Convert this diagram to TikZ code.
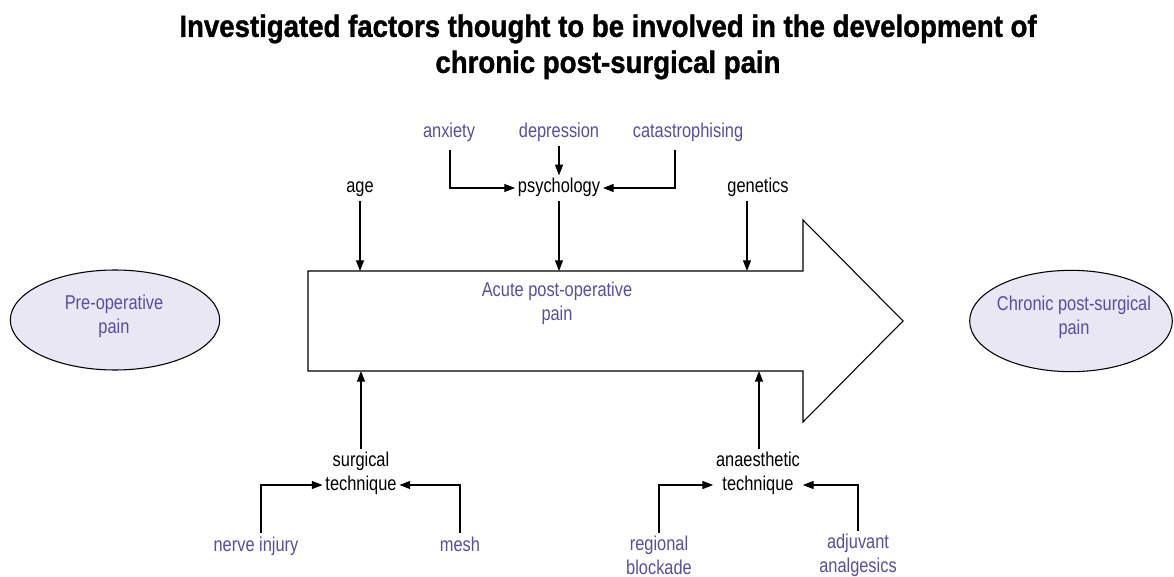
\documentclass[tikz,border=0pt]{standalone}
\usepackage{fontspec}
\setmainfont{Liberation Sans}[FakeStretch=0.82]
\newfontfamily\titlefont{Liberation Sans Bold}[FakeStretch=0.9, FakeBold=1.2]
\usepackage{tikz}
\usetikzlibrary{arrows.meta, positioning, calc, shapes.geometric}
\definecolor{lila}{HTML}{5B4C9F}
\definecolor{lilafill}{HTML}{E9E7F3}

\begin{document}
\begin{tikzpicture}[
    x=0.75pt, y=-0.75pt,
    font=\fontsize{15}{18}\selectfont,
    mainfac/.style={align=center, inner sep=2pt, text height=11pt, text depth=3.5pt},
    twoline/.style={align=center, inner sep=2pt},
    factor/.style={mainfac, text=lila},
    twofactor/.style={twoline, text=lila},
    painbox/.style={draw, ellipse, fill=lilafill, line width=0.8pt, inner sep=0pt},
    arr/.style={-{Triangle[length=8pt,width=6pt]}, line width=0.8pt}
  ]
    \useasboundingbox (0,0) rectangle (1174,577);
    \node[font=\titlefont\fontsize{23}{27}\selectfont, align=center] (title) at (608,47)
      {Investigated factors thought to be involved in the development of\\chronic post-surgical pain};

    \node[painbox, minimum width=157pt, minimum height=75pt] (pre) at (115,320) {};
    \node[twofactor] (pretext) at ($(pre)+(-1,-4)$) {Pre-operative\\pain};
    \node[painbox, minimum width=152pt, minimum height=76pt] (chronic) at (1071,321) {};
    \node[twofactor] (chrtext) at ($(chronic)+(3,-4)$) {Chronic post-surgical\\pain};

    % big arrow
    \draw[line width=0.8pt] (308,271) coordinate (bodytop) -- (803,271) -- (803,220) -- (903,321)
      -- (803,422) -- (803,371) -- (308,371) coordinate (bodybot) -- cycle;
    \node[twofactor] (acute) at (557,303) {Acute post-operative\\pain};

    % top
    \node[mainfac] (age) at (360,188) {age};
    \node[mainfac] (psych) at (559,188) {psychology};
    \node[mainfac] (genetics) at (758,188) {genetics};
    \node[factor] (anxiety) at (449,133) {anxiety};
    \node[factor] (depression) at (559,133) {depression};
    \node[factor] (catastr) at (688,133) {catastrophising};
    \coordinate (anxfoot) at ($(anxiety.south)+(1,0)$);
    \coordinate (catfoot) at ($(catastr.south)+(-13,0)$);
    \coordinate (genfoot) at ($(genetics.south)+(-11,0)$);

    \draw[arr, shorten <=3pt] (anxfoot) |- (psych.west);
    \draw[arr] (depression) -- (psych);
    \draw[arr, shorten <=3pt] (catfoot) |- (psych.east);
    \draw[arr] (age) -- (age |- bodytop);
    \draw[arr] (psych) -- (psych |- bodytop);
    \draw[arr] (genfoot) -- (genfoot |- bodytop);

    % bottom
    \node[twoline] (surg) at (361,473) {surgical\\technique};
    \node[twoline] (anaes) at (758,473) {anaesthetic\\technique};
    \node[factor] (nerve) at (256,546) {nerve injury};
    \node[factor] (mesh) at (460,546) {mesh};
    \node[twofactor] (regional) at (659,555) {regional\\blockade};
    \node[twofactor] (adjuvant) at (858,555) {adjuvant\\analgesics};
    \coordinate (anatop) at ($(anaes.north)+(1,0)$);
    \coordinate (nervetop) at ($(nerve.north)+(5,0)$);

    \draw[arr] (surg) -- (surg |- bodybot);
    \draw[arr] (anatop) -- (anatop |- bodybot);
    \draw[arr] (nervetop) |- ($(surg.west)+(0,12)$);
    \draw[arr] (mesh.north) |- ($(surg.east)+(0,12)$);
    \draw[arr] (regional.north) |- ($(anaes.west)+(0,12)$);
    \draw[arr] (adjuvant.north) |- ($(anaes.east)+(0,12)$);
  \end{tikzpicture}
\end{document}
